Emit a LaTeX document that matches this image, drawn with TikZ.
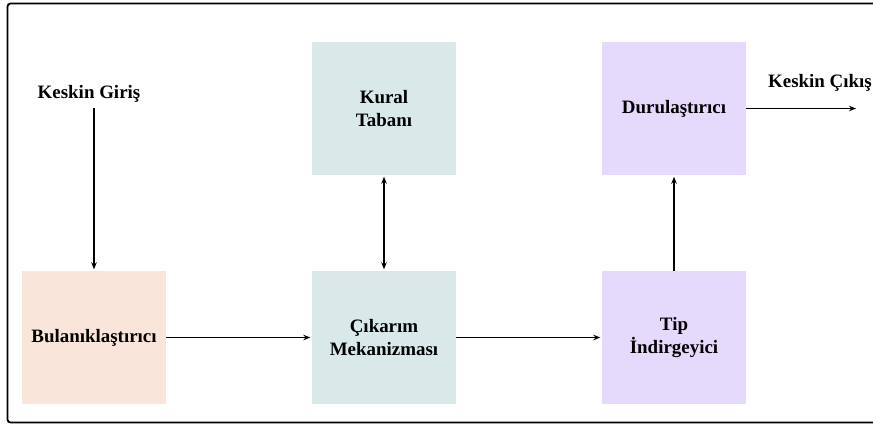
\documentclass[tikz,border=0pt]{standalone}
\usepackage{fontspec}
\setmainfont{Liberation Serif}
\usetikzlibrary{arrows.meta}
\definecolor{peach}{HTML}{F9E5DA}
\definecolor{teal}{HTML}{D9E8E8}
\definecolor{lav}{HTML}{E6DAFC}
\begin{document}
\begin{tikzpicture}[x=1bp,y=-1bp,
  blk/.style={minimum width=144bp,minimum height=133bp,inner sep=0pt,align=center,
    font=\fontsize{19}{22.5}\selectfont\bfseries},
  lbl/.style={inner sep=0pt,font=\fontsize{19}{22.5}\selectfont\bfseries},
  arr/.style={line width=1.2bp,-{Stealth[length=7bp,width=5.5bp]}},
  darr/.style={line width=1.2bp,{Stealth[length=7bp,width=5.5bp]}-{Stealth[length=7bp,width=5.5bp]}}]
\clip (0,0) rectangle (873,426);
\fill[white] (0,0) rectangle (873,426);
\draw[line width=1.8bp,rounded corners=3bp] (7.5,3.5) rectangle (895,422.5);
\node[blk,fill=peach] (bul) at (94,337.5) {Bulanıklaştırıcı};
\node[blk,fill=teal] (cik) at (384,337.5) {Çıkarım\\Mekanizması};
\node[blk,fill=teal] (kur) at (384,108.5) {Kural\\Tabanı};
\node[blk,fill=lav] (tip) at (674,337.5) {Tip\\İndirgeyici};
\node[blk,fill=lav] (dur) at (674,108.5) {Durulaştırıcı};
\node[lbl,anchor=base] (kg) at (89,98) {Keskin Giriş};
\node[lbl,anchor=base west] (kc) at (768,87) {Keskin Çıkış};
\coordinate (kgs) at (94,108);
\coordinate (out) at (856,108.5);
\draw[arr,shorten >=1.5bp] (kgs) -- (bul.north);
\draw[arr,shorten >=1.5bp] (bul.east) -- (cik.west);
\draw[arr,shorten >=1.5bp] (cik.east) -- (tip.west);
\draw[darr,shorten >=1.5bp,shorten <=1.5bp] (kur.south) -- (cik.north);
\draw[arr,shorten >=1.5bp] (tip.north) -- (dur.south);
\draw[arr] (dur.east) -- (out);
\end{tikzpicture}
\end{document}
